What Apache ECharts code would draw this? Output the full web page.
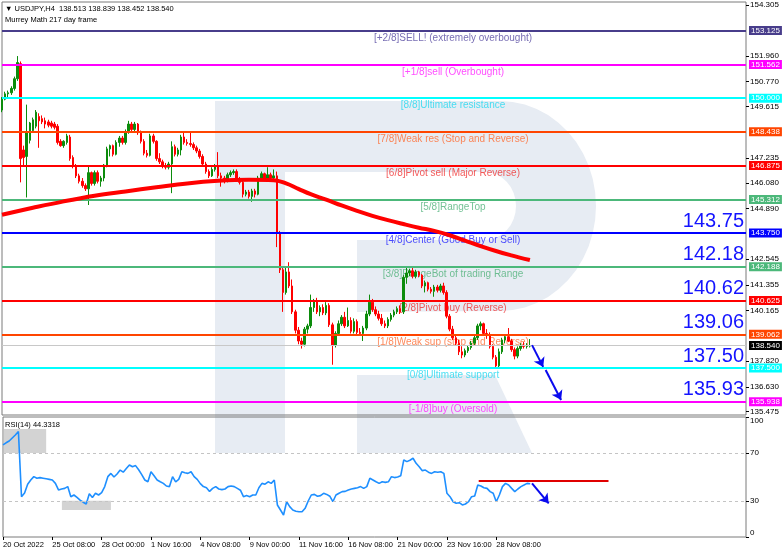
<!DOCTYPE html>
<html><head><meta charset="utf-8">
<script src="https://cdn.jsdelivr.net/npm/echarts@6/dist/echarts.min.js"></script>
<style>html,body{margin:0;padding:0;background:#fff}#c{width:782px;height:555px}</style>
</head><body><div id="c"></div>
<script>
// ---------------- data ----------------
const headerText = '\u25BC USDJPY,H4  138.513 138.839 138.452 138.540';
const subHeaderText = 'Murrey Math 217 day frame';
const rsiTitle = 'RSI(14) 44.3318';
const slots = 242;
// [open, high, low, close] per H4 bar
const ohlc = [
[149.45,150.05,149.35,149.95],[149.95,150.30,149.90,150.20],[150.20,150.35,150.05,150.25],[150.25,150.55,150.15,150.45],[150.45,151.00,150.35,150.90],
[150.90,151.95,150.80,151.65],[151.60,151.70,146.10,147.20],[147.60,147.80,146.90,147.25],[147.30,149.70,145.40,148.40],[148.05,148.90,147.90,148.85],
[148.50,149.10,148.40,149.00],[148.70,149.45,148.60,149.35],[149.15,149.30,147.70,148.95],[149.05,149.20,148.80,148.90],[148.95,149.10,148.60,148.80],
[148.90,149.00,148.65,148.75],[148.85,148.95,148.60,148.70],[148.80,148.90,148.55,148.65],[148.70,148.80,147.85,147.95],[148.00,148.10,147.75,147.80],
[147.80,148.05,147.70,148.00],[147.95,148.35,147.85,148.25],[148.20,148.30,147.10,147.20],[147.25,147.35,146.75,146.85],[146.85,146.95,146.30,146.40],
[146.40,146.50,146.05,146.15],[146.15,146.30,145.85,145.95],[145.95,146.05,145.70,145.80],[145.80,146.90,145.05,146.55],[146.55,146.60,145.95,146.05],
[146.05,146.65,145.95,146.55],[146.55,146.65,146.05,146.15],[146.15,146.40,145.90,146.30],[146.30,146.95,146.15,146.90],[146.90,147.75,146.80,147.65],
[147.65,147.85,147.30,147.80],[147.80,147.85,147.30,147.40],[147.40,148.05,147.35,147.95],[147.95,148.25,147.75,148.15],[148.15,148.25,147.85,147.95],
[147.95,148.55,147.85,148.45],[148.45,148.95,148.35,148.80],[148.80,148.90,148.45,148.55],[148.55,148.90,148.45,148.80],[148.80,148.85,148.30,148.40],
[148.40,148.50,147.90,148.00],[148.00,148.10,147.35,147.45],[147.45,147.60,147.25,147.35],[147.35,148.35,147.30,148.25],[148.25,148.35,147.90,148.00],
[148.00,148.05,147.10,147.20],[147.20,147.45,146.95,147.05],[147.05,147.15,146.75,146.85],[146.85,147.00,146.70,146.80],[146.80,147.05,146.70,146.95],
[146.95,148.00,145.60,147.75],[147.75,147.85,147.30,147.40],[147.40,147.70,147.30,147.60],[147.60,148.30,147.35,148.20],[148.20,148.40,147.85,147.95],
[147.95,148.10,147.80,147.90],[147.90,148.40,147.75,147.85],[147.85,147.95,147.60,147.70],[147.70,147.80,147.45,147.55],[147.55,147.65,147.20,147.30],
[147.30,147.40,146.85,146.95],[146.95,147.05,146.50,146.60],[146.60,146.70,146.30,146.40],[146.40,146.80,146.35,146.70],[146.70,146.95,146.60,146.85],
[146.85,147.50,146.30,146.40],[146.40,146.55,145.90,146.30],[146.30,146.40,146.05,146.20],[146.20,146.55,146.10,146.45],[146.45,146.65,146.35,146.55],
[146.55,146.70,146.45,146.60],[146.60,146.70,146.15,146.25],[146.25,146.35,146.00,146.10],[146.10,146.20,145.40,145.55],[145.55,145.75,145.45,145.65],
[145.65,145.75,145.35,145.45],[145.45,145.80,145.20,145.70],[145.70,145.80,145.40,145.55],[145.55,146.40,145.50,146.30],[146.30,146.60,146.20,146.50],
[146.50,146.55,146.20,146.30],[146.30,146.80,146.25,146.45],[146.45,146.55,146.20,146.30],[146.30,146.70,146.20,146.40],[146.40,146.60,143.10,143.75],
[143.75,143.85,141.90,142.05],[142.05,142.20,140.10,141.00],[141.00,142.20,140.90,141.95],[141.95,142.40,141.20,141.30],[141.30,141.60,140.00,140.10],
[140.10,140.20,139.10,139.25],[139.25,139.40,138.60,138.75],[138.75,138.90,138.40,138.60],[138.60,139.40,138.50,139.30],[139.30,139.55,139.10,139.45],
[139.45,140.90,139.35,140.30],[140.30,140.70,140.10,140.60],[140.60,140.75,140.00,140.10],[140.10,140.40,139.90,140.30],[140.30,140.45,139.95,140.05],
[140.05,140.55,139.95,140.40],[140.40,140.50,139.40,139.50],[139.50,139.60,137.65,138.55],[138.55,139.20,138.45,139.10],[139.10,139.70,139.00,139.55],
[139.55,139.95,139.45,139.85],[139.85,140.10,139.35,139.45],[139.45,140.30,139.40,139.70],[139.70,139.85,139.10,139.20],[139.20,139.80,139.10,139.65],
[139.65,139.75,139.05,139.15],[139.15,139.35,139.00,139.10],[139.10,139.45,138.75,139.35],[139.35,140.15,139.25,140.00],[140.00,140.90,139.90,140.55],
[140.55,140.70,140.10,140.20],[140.20,140.35,139.90,140.00],[140.00,140.15,139.70,139.80],[139.80,140.00,139.45,139.55],[139.55,139.70,139.35,139.45],
[139.45,139.85,139.35,139.75],[139.75,140.05,139.65,139.95],[139.95,140.20,139.85,140.10],[140.10,140.35,140.00,140.25],[140.25,140.40,140.00,140.10],
[140.10,141.80,140.00,141.70],[141.70,142.20,141.40,141.90],[141.90,142.10,141.75,142.00],[142.00,142.20,141.65,141.75],[141.75,142.05,141.65,141.95],
[141.95,142.00,141.70,141.80],[141.80,141.85,141.20,141.30],[141.30,141.55,141.00,141.45],[141.45,141.50,141.05,141.15],[141.15,141.25,140.95,141.05],
[141.05,141.35,140.80,141.25],[141.25,141.35,141.00,141.10],[141.10,141.40,141.00,141.30],[141.30,141.45,140.90,141.00],[141.00,141.10,139.80,139.90],
[139.90,140.00,139.20,139.30],[139.30,139.45,138.80,138.90],[138.90,139.00,138.55,138.65],[138.65,138.80,138.10,138.25],[138.25,138.50,137.95,138.10],
[138.10,138.40,138.00,138.30],[138.30,138.55,138.20,138.45],[138.45,138.75,138.35,138.65],[138.65,139.00,138.55,138.90],[138.90,139.55,138.80,139.45],
[139.45,139.65,139.25,139.55],[139.55,139.60,139.00,139.10],[139.10,139.30,138.85,139.00],[139.00,139.15,138.40,138.50],[138.50,138.60,137.90,138.00],
[138.00,138.10,137.50,137.60],[137.60,138.40,137.50,138.25],[138.25,138.90,138.15,138.80],[138.80,139.00,138.65,138.95],[138.95,139.35,138.70,138.75],
[138.75,138.85,138.25,138.35],[138.35,138.45,137.90,138.05],[138.05,138.50,137.95,138.40],[138.40,138.65,138.30,138.55],[138.55,138.70,138.40,138.50],
[138.50,138.65,138.40,138.55],[138.513,138.839,138.452,138.540]
];
const rsi = [
76.7,78.5,80,82.5,85,87.8,33.6,36.6,44,47.5,
50.3,49,49.5,49,48.5,48,47.5,44.7,39.2,40,
40.5,42,33.6,35,33,30.8,29,27.5,36,33,
36.4,35,37,42,50.3,53,50,52.5,55.8,54,
57,60,58.5,59.5,56,52,47.5,46,54.4,51,
47.5,46,44.7,42.5,42,50.3,46,48,54.4,53.5,
53,54.4,50.3,48,44.5,42,41,38,40.5,42,
40,39.5,40,42,42.5,42,40.5,39,33.6,34.5,
33.6,35,35,41,44.7,44,46,44.7,47.5,26.7,
22.5,18.3,29.4,25.3,22.5,21.5,21.1,21,23.9,30,
35,35.5,34,34.5,36.4,35.5,34,29.4,35,36.5,
37.8,38,39.2,40,40.5,41,42,40.5,42,48.9,
47.5,46,44.7,46,45.5,46,50.3,49.5,50,51,
64.2,62.8,64,65.6,61.4,58.6,55.3,55.8,54,53,
54.4,54,54.4,53,36.4,33.6,29.4,28.1,28.6,26.7,
27.5,29.4,33.6,34.2,43.3,42.5,41,40.5,37.8,36.4,
29.4,35,42,44.7,43.3,40.5,37.8,40,42,43.3,
44.7,44.33
];
// moving average read at these bar indices
const maIdx = [0,10,20,30,40,50,60,70,80,88,92,96,100,105,110,115,120,125,130,135,140,145,150,155,160,165,171];
const maVal = [144.60,144.92,145.22,145.48,145.68,145.87,146.05,146.17,146.22,146.20,146.05,145.80,145.55,145.30,145.03,144.78,144.55,144.35,144.17,144.00,143.85,143.65,143.40,143.15,142.92,142.72,142.50];
// Murrey Math levels
const levelValues = [153.125,151.562,150.000,148.438,146.875,145.312,143.750,142.188,140.625,139.062,137.500,135.938];
const levelNames = ['[+2/8]SELL! (extremely overbought)','[+1/8]sell (Overbought)','[8/8]Ultimate resistance','[7/8]Weak res (Stop and Reverse)','[6/8]Pivot sell (Major Reverse)','[5/8]RangeTop','[4/8]Center (Good Buy or Sell)','[3/8]RangeBot of trading Range','[2/8]Pivot buy (Reverse)','[1/8]Weak sup (stop and Reverse)','[0/8]Ultimate support','[-1/8]buy (Oversold)'];
const bigValues = [143.750,142.188,140.625,139.062,137.500,135.938];
const bigLabels = ['143.75','142.18','140.62','139.06','137.50','135.93'];
const currentPrice = 138.540;
const priceTicks = [154.305,151.960,150.770,149.615,147.235,146.080,144.890,142.545,141.355,140.165,137.820,136.630,135.475];
const rsiTicks = [0,30,70,100];
const rsiGuides = [30,70];
const xTickLabels = ['20 Oct 2022','25 Oct 08:00','28 Oct 00:00','1 Nov 16:00','4 Nov 08:00','9 Nov 00:00','11 Nov 16:00','16 Nov 08:00','21 Nov 00:00','23 Nov 16:00','28 Nov 08:00'];
const xTickStep = 16;
const priceArrows = [[[171.7,138.56],[175.3,137.55]],[[176.1,137.41],[181.1,136.02]]];
const rsiArrow = [[171.6,44.7],[177.0,28.1]];
const rsiResistance = [[154.3,46.7],[196.4,46.7]];
const rsiBoxes = [[[0.3,90],[14,70]],[[19.1,30.2],[35,22.5]]];
const levelTextIdx = 146.1;

// ---------------- styles ----------------
const FONT = '"Liberation Sans", Arial, sans-serif';
const levelColors = ['#483D8B','#FF00FF','#00FFFF','#FF4500','#FF0000','#4CB87A','#0000FF','#4CB87A','#FF0000','#FF4500','#00FFFF','#FF00FF'];
const levelTextColors = ['#5548a0','#FF22FF','#20D8F0','#FF6A30','#F03030','#50B27A','#2222FF','#50B27A','#F03030','#FF6A30','#20D8F0','#FF22FF'];
const WM = '#e7ecf3';

function arcPts(cx, cy, rx, ry, a0, a1, n) {
  const pts = [];
  for (let k = 0; k <= n; k++) {
    const a = a0 + (a1 - a0) * k / n;
    pts.push([cx + rx * Math.cos(a), cy + ry * Math.sin(a)]);
  }
  return pts;
}
const bowlPts = [[285, 101], [500, 101]]
  .concat(arcPts(500, 206, 96, 105, -Math.PI / 2, Math.PI / 2, 24))
  .concat([[357, 312], [357, 240], [485, 240]])
  .concat(arcPts(485, 206, 31, 34, Math.PI / 2, -Math.PI / 2, 16))
  .concat([[285, 172]]);

const cats = Array.from({length: slots}, (_, i) => String(i));
const showTick = (idx) => idx % xTickStep === 0 && idx / xTickStep < xTickLabels.length;

const chart = echarts.init(document.getElementById('c'), null, {renderer: 'canvas'});
const option = {
  animation: false,
  backgroundColor: '#ffffff',
  textStyle: {fontFamily: FONT},
  grid: [
    {left: 2, top: 2, width: 744, height: 413, show: true, borderColor: '#7a7a7a', borderWidth: 1, backgroundColor: 'transparent'},
    {left: 2, top: 417, width: 744, height: 120, show: true, borderColor: '#7a7a7a', borderWidth: 1, backgroundColor: 'transparent'}
  ],
  xAxis: [
    {gridIndex: 0, type: 'category', data: cats, boundaryGap: false, axisLine: {show: false, onZero: false}, axisTick: {show: false}, axisLabel: {show: false}, splitLine: {show: false}},
    {gridIndex: 1, type: 'category', data: cats, boundaryGap: false, axisLine: {show: false, onZero: false},
      axisTick: {show: true, interval: showTick, length: 3, lineStyle: {color: '#000'}},
      axisLabel: {show: true, interval: showTick, align: 'left', margin: 4, fontSize: 7.5, color: '#000', fontFamily: FONT,
        formatter: (v, idx) => xTickLabels[idx / xTickStep] || ''},
      splitLine: {show: false}},
    {gridIndex: 0, type: 'value', min: 0, max: slots - 1, show: false, axisLine: {onZero: false}},
    {gridIndex: 1, type: 'value', min: 0, max: slots - 1, show: false, axisLine: {onZero: false}}
  ],
  yAxis: [
    {gridIndex: 0, type: 'value', position: 'right', min: 135.322, max: 154.455, scale: true,
      splitLine: {show: false}, axisLine: {show: false, onZero: false},
      axisTick: {show: true, customValues: priceTicks, length: 3, lineStyle: {color: '#000'}},
      axisLabel: {show: true, customValues: priceTicks, formatter: v => v.toFixed(3), fontSize: 8, color: '#000', margin: 4, fontFamily: FONT}},
    {gridIndex: 1, type: 'value', position: 'right', min: 0, max: 100,
      splitLine: {show: false}, axisLine: {show: false, onZero: false},
      axisTick: {show: true, customValues: rsiTicks, length: 3, lineStyle: {color: '#000'}},
      axisLabel: {show: true, customValues: rsiTicks, fontSize: 8, color: '#000', margin: 4, fontFamily: FONT,
        verticalAlignMaxLabel: 'top', verticalAlignMinLabel: 'bottom'}}
  ],
  series: [
    {type: 'line', name: 'levels', xAxisIndex: 2, yAxisIndex: 0, data: [], z: 1,
      markLine: {silent: true, symbol: 'none', animation: false,
        data: levelValues.map((v, k) => ({yAxis: v,
          lineStyle: {color: levelColors[k], width: 2, type: 'solid', opacity: 1},
          label: {show: true, position: 'end', distance: 3, formatter: v.toFixed(3), backgroundColor: levelColors[k], color: '#fff',
            fontSize: 8, fontFamily: FONT, padding: [1, 2, 0, 2]}}))
          .concat([{yAxis: currentPrice, lineStyle: {color: '#c8c8c8', width: 1, type: 'solid'},
            label: {show: true, position: 'end', distance: 3, formatter: currentPrice.toFixed(3), backgroundColor: '#000', color: '#fff',
              fontSize: 8, fontFamily: FONT, padding: [1, 2, 0, 2]}}])
      }},
    {type: 'scatter', name: 'levelText', xAxisIndex: 2, yAxisIndex: 0, z: 2, symbolSize: 1, silent: true,
      itemStyle: {color: 'rgba(0,0,0,0)'},
      data: levelValues.map((v, k) => ({value: [levelTextIdx, v],
        label: {show: true, position: 'bottom', distance: 2, formatter: levelNames[k], color: levelTextColors[k], fontSize: 10, fontFamily: FONT}}))},
    {type: 'candlestick', name: 'USDJPY', xAxisIndex: 0, yAxisIndex: 0, z: 3, barWidth: 2,
      data: ohlc.map(r => [r[0], r[3], r[2], r[1]]),
      itemStyle: {color: '#0c8c0c', color0: '#ff0000', borderColor: '#0c8c0c', borderColor0: '#ff0000', borderWidth: 1}},
    {type: 'line', name: 'bigNumbers', xAxisIndex: 2, yAxisIndex: 0, data: [], z: 4,
      markLine: {silent: true, symbol: 'none',
        data: bigValues.map((v, k) => ({yAxis: v, lineStyle: {color: 'rgba(0,0,0,0)', width: 1},
          label: {show: true, position: 'insideEndTop', distance: 2, formatter: bigLabels[k], color: '#1414ff', fontSize: 20, fontFamily: FONT}}))}},
    {type: 'line', name: 'MA', xAxisIndex: 2, yAxisIndex: 0, z: 5, smooth: 0.4, symbol: 'none',
      data: maIdx.map((x, k) => [x, maVal[k]]), lineStyle: {color: '#ff0000', width: 4}},
    {type: 'line', name: 'arrows', xAxisIndex: 2, yAxisIndex: 0, data: [], z: 6,
      markLine: {silent: true, symbol: ['none', 'arrow'], symbolSize: 9,
        lineStyle: {color: '#0a0aee', width: 2, type: 'solid'}, label: {show: false},
        data: priceArrows.map(a => [{coord: a[0]}, {coord: a[1]}])}},
    {type: 'line', name: 'rsiBg', xAxisIndex: 3, yAxisIndex: 1, data: [], z: 1,
      markArea: {silent: true, itemStyle: {color: '#d3d3d3'},
        data: rsiBoxes.map(b => [{coord: b[0]}, {coord: b[1]}])},
      markLine: {silent: true, symbol: 'none', label: {show: false},
        lineStyle: {color: '#c4c4c4', width: 1, type: [3, 3]},
        data: rsiGuides.map(v => ({yAxis: v}))}},
    {type: 'line', name: 'RSI', xAxisIndex: 1, yAxisIndex: 1, z: 3, symbol: 'none', data: rsi,
      lineStyle: {color: '#1e8fff', width: 1.6}},
    {type: 'line', name: 'rsiMarks', xAxisIndex: 3, yAxisIndex: 1, data: [], z: 5,
      markLine: {silent: true, label: {show: false},
        data: [
          [{coord: rsiResistance[0], symbol: 'none', lineStyle: {color: '#e00000', width: 2, type: 'solid'}},
           {coord: rsiResistance[1], symbol: 'none'}],
          [{coord: rsiArrow[0], symbol: 'none', lineStyle: {color: '#0a0aee', width: 2, type: 'solid'}},
           {coord: rsiArrow[1], symbol: 'arrow', symbolSize: 9}]
        ]}}
  ],
  graphic: [
    {type: 'rect', z: -1, silent: true, shape: {x: 215, y: 101, width: 70, height: 352}, style: {fill: WM}},
    {type: 'polygon', z: -1, silent: true, shape: {points: bowlPts}, style: {fill: WM}},
    {type: 'polygon', z: -1, silent: true, shape: {points: [[357, 375], [495, 375], [532, 453], [357, 453]]}, style: {fill: WM}},
    {type: 'text', left: 5, top: 5, z: 10, silent: true, style: {text: headerText, fill: '#000', fontSize: 7.5, fontFamily: FONT}},
    {type: 'text', left: 5, top: 16, z: 10, silent: true, style: {text: subHeaderText, fill: '#000', fontSize: 7.5, fontFamily: FONT}},
    {type: 'text', left: 5, top: 421, z: 10, silent: true, style: {text: rsiTitle, fill: '#000', fontSize: 7.5, fontFamily: FONT}}
  ]
};
chart.setOption(option);
</script>
</body></html>
